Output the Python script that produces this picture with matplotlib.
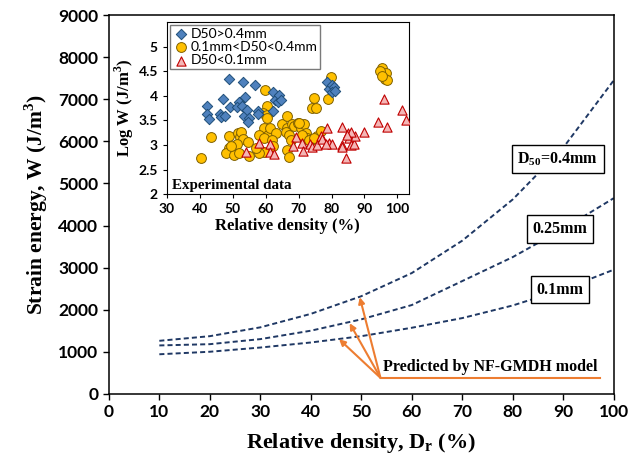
import matplotlib.pyplot as plt

# predicted curves (NF-GMDH), strain energy vs relative density
dr = [10, 20, 30, 40, 50, 60, 70, 80, 90, 100]
w_04 = [1260, 1370, 1580, 1900, 2320, 2870, 3640, 4620, 5850, 7450]
w_025 = [1150, 1180, 1300, 1500, 1770, 2110, 2680, 3250, 3920, 4650]
w_01 = [940, 1000, 1100, 1220, 1370, 1570, 1800, 2100, 2480, 2950]

# experimental data (inset)
big_x = [49.0, 53.1, 56.9, 47.0, 42.3, 42.3, 42.8, 49.3, 51.8, 53.6, 51.4, 52.9,
         53.3, 54.3, 55.1, 54.7, 46.0, 46.5, 47.6, 57.6, 57.6, 62.1, 62.9, 62.3,
         63.7, 64.1, 64.6, 78.7, 79.2, 80.2, 80.8, 80.1, 81.1]
big_y = [4.34, 4.29, 4.22, 3.93, 3.80, 3.63, 3.53, 3.77, 3.88, 3.97, 3.77, 3.80,
         3.59, 3.71, 3.54, 3.46, 3.63, 3.56, 3.59, 3.70, 3.64, 4.07, 3.92, 3.70,
         3.88, 4.02, 3.92, 4.29, 4.14, 4.22, 4.18, 4.07, 4.10]

mid_x = [40.5, 43.5, 49.0, 48.8, 48.0, 50.5, 51.5, 52.2, 52.5, 53.0, 51.2, 51.9,
         49.5, 54.6, 55.1, 59.9, 60.3, 59.3, 60.3, 60.5, 59.6, 58.1, 60.6, 59.6,
         61.3, 63.1, 61.9, 62.1, 59.6, 58.1, 57.1, 64.9, 66.6, 66.6, 66.1, 67.2,
         67.7, 66.6, 67.2, 68.1, 68.5, 69.7, 70.7, 71.7, 72.2, 72.5, 73.7, 75.7,
         74.2, 75.2, 74.7, 79.0, 79.7, 76.7, 70.2, 71.0, 73.2, 74.7, 95.4, 96.4,
         94.8, 96.2, 96.9, 95.4]
mid_y = [2.73, 3.16, 3.18, 2.93, 2.84, 2.80, 3.24, 3.17, 3.27, 3.13, 3.03, 2.83,
         2.97, 3.07, 2.78, 4.12, 3.80, 3.65, 3.61, 3.55, 3.34, 3.20, 3.20, 3.14,
         3.34, 3.25, 3.10, 2.97, 2.86, 2.83, 2.93, 3.43, 3.58, 3.34, 3.27, 3.20,
         3.10, 2.90, 2.76, 3.43, 3.38, 3.44, 3.34, 3.43, 3.25, 3.14, 3.10, 3.18,
         3.75, 3.75, 3.95, 3.93, 4.38, 3.29, 3.44, 3.20, 3.10, 3.14, 4.57, 4.46,
         4.50, 4.34, 4.33, 4.40]

small_x = [53.9, 58.1, 61.3, 61.3, 62.6, 69.2, 68.4, 71.0, 71.2, 73.4, 74.2, 75.7,
           76.7, 77.2, 78.7, 79.2, 80.2, 83.3, 83.3, 83.3, 84.3, 85.1, 85.4, 86.0,
           86.8, 87.1, 89.8, 94.1, 85.8, 84.8, 96.9, 95.9, 101.4, 102.6, 78.2]
small_y = [2.86, 3.05, 3.03, 2.86, 2.82, 3.16, 2.97, 3.05, 2.88, 3.02, 2.95, 3.00,
           3.18, 3.12, 3.34, 3.05, 3.02, 3.37, 3.00, 2.95, 2.73, 3.25, 3.14, 3.00,
           3.03, 3.18, 3.27, 3.46, 3.27, 3.20, 3.36, 3.93, 3.71, 3.50, 3.03]

serif = 'Liberation Serif'
sans = 'Lato'
curve_color = '#1F3864'
orange = '#ED7D31'

plt.rcParams['mathtext.fontset'] = 'custom'
plt.rcParams['mathtext.bf'] = serif + ':bold'
plt.rcParams['mathtext.rm'] = serif

fig = plt.figure(figsize=(6.44, 4.59), dpi=100)
ax = fig.add_axes([0.169, 0.142, 0.784, 0.825])

for w in (w_04, w_025, w_01):
    ax.plot(dr, w, color=curve_color, lw=1.4, dashes=(2.6, 1.6))

box = dict(boxstyle='square,pad=0.35', fc='white', ec='black', lw=1)
ax.text(88.9, 5580, r'D$_{\mathbf{50}}$=0.4mm', ha='center', va='center',
        fontsize=11.5, fontweight='bold', family=serif, bbox=box)
ax.text(89.4, 3918, '0.25mm', ha='center', va='center',
        fontsize=11.5, fontweight='bold', family=serif, bbox=box)
ax.text(89.3, 2470, '0.1mm', ha='center', va='center',
        fontsize=11.5, fontweight='bold', family=serif, bbox=box)

# annotation with arrows
ax.plot([54, 97.2], [373, 373], color=orange, lw=1.5)
for tx, ty in [(49.7, 2296), (47.7, 1678), (45.6, 1299)]:
    ax.annotate('', xy=(tx, ty), xytext=(53.8, 380),
                arrowprops=dict(arrowstyle='-|>', color=orange, lw=1.5,
                                mutation_scale=9, shrinkA=0, shrinkB=0))
ax.text(75.6, 640, 'Predicted by NF-GMDH model', ha='center', va='center',
        fontsize=11.5, fontweight='bold', family=serif)

ax.set_xlim(0, 100)
ax.set_ylim(0, 9000)
ax.set_xticks(range(0, 101, 10))
ax.set_yticks(range(0, 9001, 1000))
ax.tick_params(direction='out', length=4, width=1, labelsize=12.5)
for lab in ax.get_xticklabels() + ax.get_yticklabels():
    lab.set_fontweight('bold')
    lab.set_family(sans)
for s in ax.spines.values():
    s.set_linewidth(1.1)
ax.set_xlabel(r'Relative density, D$_{\mathbf{r}}$ (%)', fontsize=16,
              fontweight='bold', family=serif, labelpad=8)
ax.set_ylabel(r'Strain energy, W (J/m$^{\mathbf{3}}$)', fontsize=15.5,
              fontweight='bold', family=serif, labelpad=6)

# inset
ins = fig.add_axes([0.259, 0.577, 0.376, 0.375])
ins.scatter(big_x, big_y, marker='D', s=28, fc='#4F81BD', ec='#1F4E79',
            lw=0.7, label='D50>0.4mm', zorder=3)
ins.scatter(mid_x, mid_y, marker='o', s=50, fc='#FFC000', ec='#7F6000',
            lw=0.7, label='0.1mm<D50<0.4mm', zorder=2)
ins.scatter(small_x, small_y, marker='^', s=44, fc='#F4B6B6', ec='#C00000',
            lw=0.8, label='D50<0.1mm', zorder=4)
ins.set_xlim(30, 103.5)
ins.set_ylim(2, 5.5)
ins.set_xticks(range(30, 101, 10))
ins.set_yticks([2, 2.5, 3, 3.5, 4, 4.5, 5])
ins.set_yticklabels(['2', '2.5', '3', '3.5', '4', '4.5', '5'])
ins.tick_params(direction='out', length=3, labelsize=10)
for lab in ins.get_xticklabels() + ins.get_yticklabels():
    lab.set_fontweight('bold')
    lab.set_family(sans)
ins.set_xlabel('Relative density (%)', fontsize=12, fontweight='bold',
               family=serif, labelpad=2)
ins.set_ylabel(r'Log W (J/m$^{\mathbf{3}}$)', fontsize=12, fontweight='bold',
               family=serif, labelpad=2)
ins.text(0.02, 0.03, 'Experimental data', transform=ins.transAxes,
         fontsize=10.8, fontweight='bold', family=serif)
leg = ins.legend(loc='upper left', fancybox=False, edgecolor='#595959',
                 prop={'family': sans, 'size': 10}, handletextpad=0.1,
                 borderaxespad=0.2, labelspacing=0.1, borderpad=0.2,
                 handlelength=1.2)
leg.get_frame().set_linewidth(1)

fig.savefig('out.png', dpi=100)
